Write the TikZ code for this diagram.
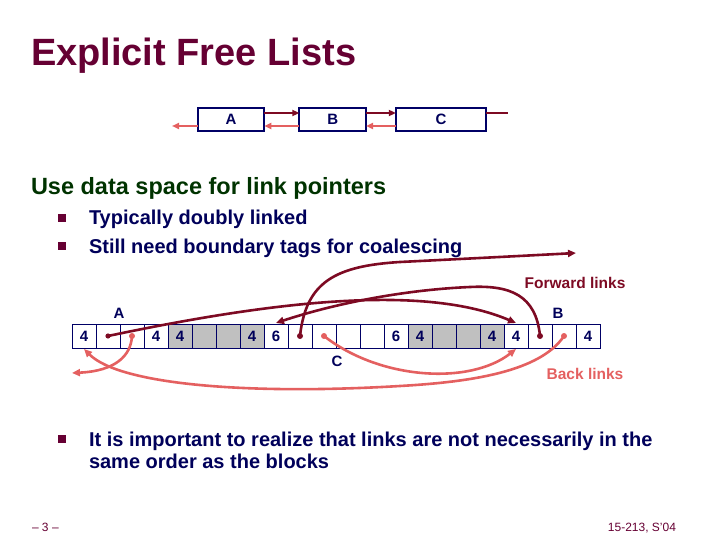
\documentclass[tikz,border=0pt]{standalone}
\usepackage{fontspec}
\setmainfont{Liberation Sans}
\usetikzlibrary{arrows.meta,calc}
\definecolor{titlec}{RGB}{102,0,51}
\definecolor{greenc}{RGB}{0,51,0}
\definecolor{navyc}{RGB}{0,0,90}
\definecolor{cellc}{RGB}{0,0,102}
\definecolor{fwdc}{RGB}{125,10,35}
\definecolor{backc}{RGB}{228,96,96}
\definecolor{greyc}{RGB}{192,192,192}
\begin{document}
\begin{tikzpicture}[x=1pt,y=-1pt,
  every node/.style={inner sep=0pt,outer sep=0pt},
  listbox/.style={draw=cellc,line width=1.8pt,minimum height=23pt,font=\fontsize{15}{18}\selectfont\bfseries,text=navyc},
  cellbox/.style={draw=cellc,line width=0.9pt,minimum width=24pt,minimum height=24pt,font=\fontsize{15}{18}\selectfont\bfseries,text=navyc},
  greycell/.style={cellbox,fill=greyc},
  lbl/.style={font=\fontsize{15}{18}\selectfont\bfseries,text=navyc},
  fwd/.style={draw=fwdc,line width=2.6pt,-{Triangle[length=8pt,width=7pt]}},
  back/.style={draw=backc,line width=2.6pt,-{Triangle[length=8pt,width=7pt]}},
  lfwd/.style={draw=fwdc,line width=2pt,-{Triangle[length=7pt,width=6pt]}},
  lback/.style={draw=backc,line width=2pt,-{Triangle[length=7pt,width=6pt]}},
  bulletsq/.style={fill=titlec,minimum width=7.5pt,minimum height=7.5pt},
  btext/.style={anchor=base west,font=\fontsize{20}{24}\selectfont\bfseries,text=navyc}
]
\useasboundingbox (0,0) rectangle (720,540);

% title
\node[anchor=base west,font=\fontsize{38}{44}\selectfont\bfseries,text=titlec] (title) at (31,66) {Explicit Free Lists};

% top list
\node[listbox,minimum width=66.6pt] (boxA) at (231,119.5) {A};
\node[listbox,minimum width=66.7pt] (boxB) at (332.7,119.5) {B};
\node[listbox,minimum width=90.3pt] (boxC) at (441,119.5) {C};
\coordinate (aleft) at (172,126);
\coordinate (cright) at (508,113);
\draw[lfwd] ($(boxA.east)+(0,-6.5)$) -- ($(boxB.west)+(0,-6.5)$);
\draw[lfwd] ($(boxB.east)+(0,-6.5)$) -- ($(boxC.west)+(0,-6.5)$);
\draw[draw=fwdc,line width=2pt] ($(boxC.east)+(0,-6.5)$) -- (cright);
\draw[lback] ($(boxA.west)+(0,6.5)$) -- (aleft);
\draw[lback] ($(boxB.west)+(0,6.5)$) -- ($(boxA.east)+(0,6.5)$);
\draw[lback] ($(boxC.west)+(0,6.5)$) -- ($(boxB.east)+(0,6.5)$);

% heading and bullets
\node[anchor=base west,font=\fontsize{23.5}{28}\selectfont\bfseries,text=greenc] (head) at (31,195) {Use data space for link pointers};
\node[bulletsq] (b1) at (62,218) {};
\node[btext] (t1) at (89,225) {Typically doubly linked};
\node[bulletsq] (b2) at (62,246) {};
\node[btext] (t2) at (89,253) {Still need boundary tags for coalescing};

% array cells
\foreach \i/\t/\s in {1/4/cellbox,2//cellbox,3//cellbox,4/4/cellbox,5/4/greycell,6//greycell,7//greycell,8/4/greycell,9/6/cellbox,10//cellbox,11//cellbox,12//cellbox,13//cellbox,14/6/cellbox,15/4/greycell,16//greycell,17//greycell,18/4/greycell,19/4/cellbox,20//cellbox,21//cellbox,22/4/cellbox}{
  \node[\s] (c\i) at ({72+24*(\i-0.5)},336) {\t};
}

% labels
\node[lbl] (labA) at (119,313) {A};
\node[lbl] (labB) at (558,313) {B};
\node[lbl] (labC) at (337,361) {C};
\node[font=\fontsize{15.5}{18}\selectfont\bfseries,text=fwdc] (fl) at (575,283) {Forward links};
\node[font=\fontsize{15.5}{18}\selectfont\bfseries,text=backc] (bl) at (585,374) {Back links};

% dots
\fill[fwdc] (c2.center) circle (2.6pt);
\fill[fwdc] (c10.center) circle (3pt);
\fill[fwdc] (c20.center) circle (3pt);
\fill[backc] (c3.center) circle (3pt);
\fill[backc] (c11.center) circle (3pt);
\fill[backc] (c21.center) circle (3pt);

% forward links
\coordinate (fend) at (576,253);
\draw[fwd] (c2.center) .. controls (260,304) and (420,282) .. ($(c19.north)+(0,-1)$);
\draw[fwd] (c20.center) .. controls (536,295) and (510,285) .. (470,287) .. controls (400,290) and (330,305) .. ($(c9.north)+(0,-1)$);
\draw[fwd] (c10.center) .. controls (306,282) and (335,266) .. (400,262) .. controls (460,259) and (520,256) .. (fend);

% back links
\coordinate (bend) at (72,373);
\draw[back] (c3.center) .. controls (131,356) and (115,371) .. (bend);
\draw[back] (c21.center) .. controls (540,372) and (470,382) .. (400,386) .. controls (250,395) and (120,385) .. ($(c1.south)+(0,1)$);
\draw[back] (c11.center) .. controls (380,380) and (470,385) .. ($(c19.south)+(0,1)$);

% last bullet
\node[bulletsq] (b3) at (62,439) {};
\node[btext] (t3) at (89,446) {It is important to realize that links are not necessarily in the};
\node[btext] (t4) at (89,468) {same order as the blocks};

% footer
\node[anchor=base west,font=\fontsize{12}{14}\selectfont,text=titlec] (pg) at (32,531) {– 3 –};
\node[anchor=base east,font=\fontsize{12}{14}\selectfont,text=titlec] (course) at (676,531) {15-213, S'04};
\end{tikzpicture}
\end{document}
